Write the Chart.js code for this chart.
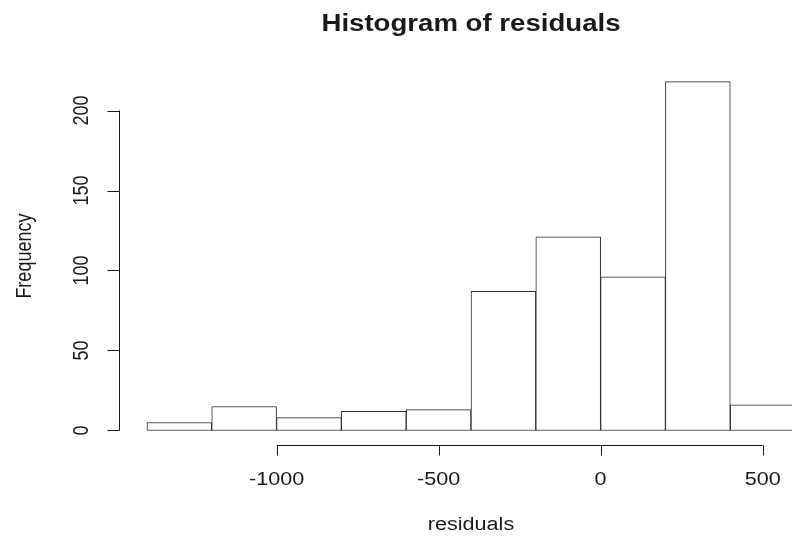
<!DOCTYPE html>
<html>
<head>
<meta charset="utf-8">
<title>Histogram of residuals</title>
<script src="https://cdn.jsdelivr.net/npm/chart.js@4/dist/chart.umd.min.js"></script>
<style>
  html, body { margin: 0; padding: 0; background: #fff; overflow: hidden; }
  canvas { display: block; }
</style>
</head>
<body>
<canvas id="hist" width="840" height="540"></canvas>
<script>
// bin edges and counts of the residuals histogram
const breaks = [-1400, -1200, -1000, -800, -600, -400, -200, 0, 200, 400, 600];
const counts = [5, 15, 8, 12, 13, 87, 121, 96, 218, 16];
const xTicks = [-1000, -500, 0, 500];
const yTicks = [0, 50, 100, 150, 200];

const FONT = '"Liberation Sans", Arial, sans-serif';
const INK = '#1a1a1a';
const STRETCH = 1.2; // text is a bit wider than tall

// R-like limits: 4% extra on each side
const xMin = breaks[0], xMax = breaks[breaks.length - 1];
const yMax = Math.max(...counts);
const xPad = (xMax - xMin) * 0.04;
const yPad = yMax * 0.04;

const bins = counts.map((c, i) => ({ x: (breaks[i] + breaks[i + 1]) / 2, y: c }));

function putText(ctx, text, x, y, rot) {
  ctx.save();
  ctx.translate(x, y);
  ctx.scale(STRETCH, 1);
  if (rot) ctx.rotate(rot);
  ctx.fillText(text, 0, 0);
  ctx.restore();
}

// axes, ticks and labels drawn base-R style
const rAxes = {
  id: 'rAxes',
  afterDraw(chart) {
    const ctx = chart.ctx;
    const xs = chart.scales.x, ys = chart.scales.y;
    const area = chart.chartArea;
    ctx.save();
    ctx.strokeStyle = INK;
    ctx.fillStyle = INK;
    ctx.lineWidth = 1;

    // x axis
    const ax = Math.round(area.bottom) + 1.5;
    ctx.beginPath();
    ctx.moveTo(xs.getPixelForValue(xTicks[0]), ax);
    ctx.lineTo(xs.getPixelForValue(xTicks[xTicks.length - 1]), ax);
    xTicks.forEach(v => {
      const px = Math.round(xs.getPixelForValue(v)) + 0.5;
      ctx.moveTo(px, ax);
      ctx.lineTo(px, ax + 10);
    });
    ctx.stroke();

    // y axis
    const ay = Math.round(area.left) - 1.5;
    ctx.beginPath();
    ctx.moveTo(ay, ys.getPixelForValue(yTicks[0]));
    ctx.lineTo(ay, ys.getPixelForValue(yTicks[yTicks.length - 1]));
    yTicks.forEach(v => {
      const py = Math.round(ys.getPixelForValue(v)) + 0.5;
      ctx.moveTo(ay, py);
      ctx.lineTo(ay - 12, py);
    });
    ctx.stroke();

    ctx.font = '18px ' + FONT;
    ctx.textAlign = 'center';
    ctx.textBaseline = 'alphabetic';
    xTicks.forEach(v => putText(ctx, String(v), xs.getPixelForValue(v), 485));
    yTicks.forEach(v => putText(ctx, String(v), 88, ys.getPixelForValue(v), -Math.PI / 2));

    const midX = (area.left + area.right) / 2;
    const midY = (area.top + area.bottom) / 2;
    putText(ctx, 'residuals', midX, 530);
    putText(ctx, 'Frequency', 31, midY, -Math.PI / 2);

    ctx.font = 'bold 23px ' + FONT;
    putText(ctx, 'Histogram of residuals', midX, 31);
    ctx.restore();
  }
};

new Chart(document.getElementById('hist').getContext('2d'), {
  type: 'bar',
  data: {
    datasets: [{
      data: bins,
      backgroundColor: '#ffffff',
      borderColor: '#2a2a2a',
      borderWidth: 1,
      borderSkipped: false,
      barPercentage: 1,
      categoryPercentage: 1
    }]
  },
  options: {
    responsive: false,
    animation: false,
    devicePixelRatio: 1,
    layout: { padding: { left: 121, right: 19, top: 67.75, bottom: 95.55 } },
    plugins: { legend: { display: false }, tooltip: { enabled: false }, title: { display: false } },
    scales: {
      x: {
        type: 'linear', min: xMin - xPad, max: xMax + xPad, offset: false, display: false,
        // ticks on the bin edges so bar width equals the bin width
        afterBuildTicks: s => { s.ticks = breaks.map(v => ({ value: v })); }
      },
      y: { type: 'linear', min: -yPad, max: yMax + yPad, display: false }
    }
  },
  plugins: [rAxes]
});
</script>
</body>
</html>
